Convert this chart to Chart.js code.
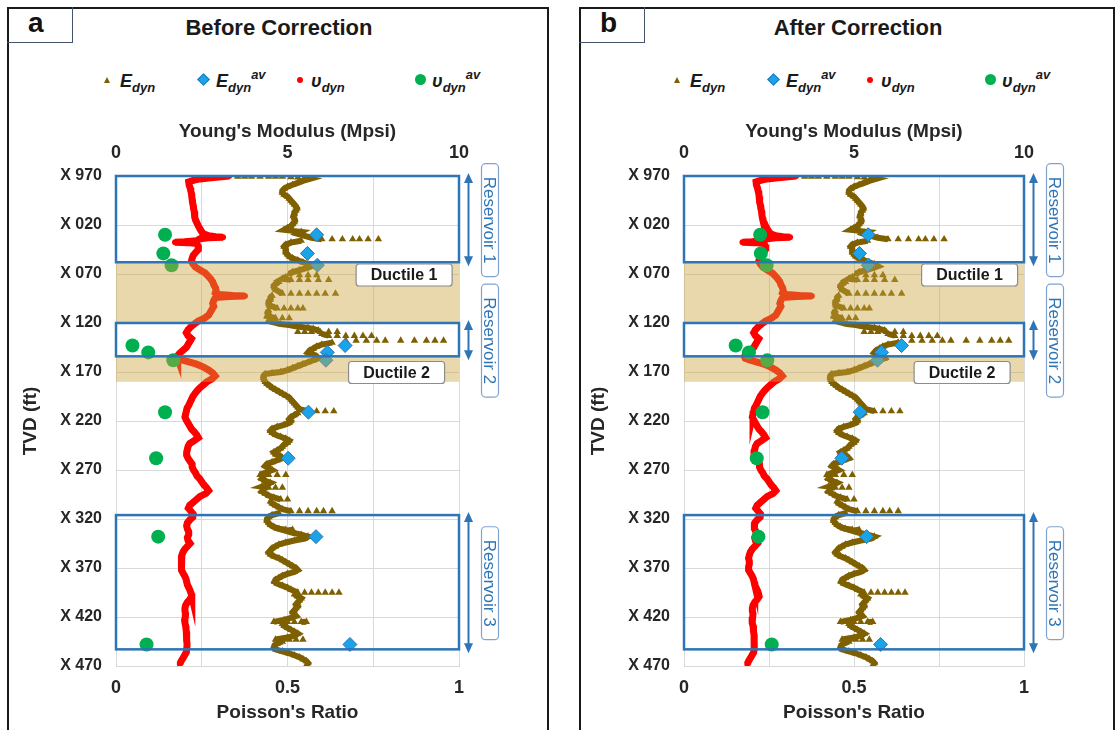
<!DOCTYPE html>
<html>
<head>
<meta charset="utf-8">
<title>Before / After Correction</title>
<script src="https://cdn.jsdelivr.net/npm/chart.js@4.4.1/dist/chart.umd.min.js"></script>
<style>
  html, body { margin: 0; padding: 0; width: 1117px; height: 730px; overflow: hidden; background: #fff;
    font-family: 'Liberation Sans', Arial, sans-serif; color: #262626; }
  .panel { position: absolute; top: 0; height: 730px; width: 560px; }
  .frame { position: absolute; top: 7px; height: 780px; border: 2px solid #1a1a1a; box-sizing: border-box; }
  .tag { position: absolute; top: 7px; width: 66px; height: 36px; box-sizing: border-box;
    border-right: 1.5px solid #44546a; border-bottom: 1.5px solid #44546a;
    font-weight: bold; font-size: 28px; line-height: 32px; padding-left: 21px; color: #111; }
  .title { position: absolute; top: 14px; width: 600px; text-align: center; font-weight: bold; font-size: 22px; line-height: 28px; color: #1a1a1a; }
  .lg { position: absolute; top: 69px; font-style: italic; font-weight: bold; font-size: 18px; line-height: 24px; white-space: nowrap; color: #1a1a1a; }
  .lg sub, .lg sup { font-size: 13px; line-height: 0; position: relative; vertical-align: baseline; }
  .lg sub { top: 5px; }
  .lg sup { top: -8px; }
  .mk { position: absolute; }
  .tri { width: 0; height: 0; border-left: 3.5px solid transparent; border-right: 3.5px solid transparent; border-bottom: 6px solid #7f6000; top: 77px; }
  .dia { width: 7px; height: 7px; background: #1aa3e8; border: 1px solid #2e75b6; transform: rotate(45deg); top: 75px; }
  .dot { width: 6px; height: 6px; border-radius: 50%; background: #ff0000; top: 77px; }
  .grn { width: 11px; height: 11px; border-radius: 50%; background: #00b050; top: 74px; }
  canvas { position: absolute; top: 110px; }
</style>
</head>
<body>

<div class="panel" style="left:0">
  <div class="frame" style="left:7px; width:542px"></div>
  <div class="tag" style="left:7px">a</div>
  <div class="title" style="left:-21px">Before Correction</div>
  <div class="mk tri" style="left:104px"></div>
  <div class="lg" style="left:120px">E<sub>dyn</sub></div>
  <div class="mk dia" style="left:199px"></div>
  <div class="lg" style="left:216px">E<sub>dyn</sub><sup>av</sup></div>
  <div class="mk dot" style="left:297px"></div>
  <div class="lg" style="left:311px">υ<sub>dyn</sub></div>
  <div class="mk grn" style="left:415px"></div>
  <div class="lg" style="left:432px">υ<sub>dyn</sub><sup>av</sup></div>
  <canvas id="chartBefore" width="535" height="620" style="left:10px"></canvas>
</div>

<div class="panel" style="left:570px">
  <div class="frame" style="left:9px; width:536px"></div>
  <div class="tag" style="left:9px">b</div>
  <div class="title" style="left:-12px">After Correction</div>
  <div class="mk tri" style="left:104px"></div>
  <div class="lg" style="left:120px">E<sub>dyn</sub></div>
  <div class="mk dia" style="left:199px"></div>
  <div class="lg" style="left:216px">E<sub>dyn</sub><sup>av</sup></div>
  <div class="mk dot" style="left:297px"></div>
  <div class="lg" style="left:311px">υ<sub>dyn</sub></div>
  <div class="mk grn" style="left:415px"></div>
  <div class="lg" style="left:432px">υ<sub>dyn</sub><sup>av</sup></div>
  <canvas id="chartAfter" width="535" height="620" style="left:8px"></canvas>
</div>

<script>
// depth range, ft (labels show the last three digits: X 970 ... X 470)
const depthTop = 970;
const depthBottom = 1470;

const reservoirZones = [[970, 1058], [1120, 1154], [1316, 1453]];
const reservoirNames = ['Reservoir 1', 'Reservoir 2', 'Reservoir 3'];
const ductileZones = [[1058, 1120], [1154, 1180]];
const ductileNames = ['Ductile 1', 'Ductile 2'];

// dynamic Young's modulus log: [depth ft, Mpsi]
const eDynLog = [
  [970.5, 3.55], [970.5, 3.75], [970.5, 3.95], [970.5, 4.2], [970.5, 4.45], [970.5, 4.65], [970.5, 4.85],
  [971, 5.1], [971.5, 5.3], [972, 5.5], [973, 5.65],
  [975, 5.45], [977, 5.3], [979, 5.15], [981, 5.0], [983, 4.9], [985, 4.85], [987, 4.85], [989, 4.9],
  [991, 5.0], [993, 5.05], [995, 5.1], [997, 5.15], [999, 5.2], [1001, 5.25], [1003, 5.28], [1005, 5.25],
  [1007, 5.2], [1009, 5.2], [1011, 5.17], [1013, 5.2], [1015, 5.22], [1017, 5.2], [1019, 5.15], [1021, 5.1],
  [1023, 5.0], [1025, 4.9], [1026, 5.15], [1027, 5.4], [1029, 5.3], [1031, 5.5], [1033, 5.7],
  [1034.5, 6.0], [1034.5, 6.3], [1034.5, 6.6], [1034.5, 6.9], [1034.5, 7.1], [1034.5, 7.35], [1034.5, 7.65],
  [1036, 5.4], [1038, 5.1], [1040, 4.95], [1042, 4.9], [1044, 4.95], [1046, 4.95], [1048, 4.95], [1050, 5.0],
  [1052, 5.05], [1054, 5.15], [1056, 5.3], [1058, 5.45], [1060, 5.6], [1062, 5.7], [1064, 5.55], [1066, 5.35],
  [1068, 5.15], [1070, 5.05],
  [1071, 5.35], [1071, 5.6], [1071, 5.85],
  [1073, 4.95], [1075, 4.85],
  [1076, 5.1], [1076, 5.35], [1076, 5.6], [1076, 5.9], [1076, 6.2],
  [1078, 4.75], [1080, 4.65], [1082, 4.6], [1084, 4.62], [1086, 4.65],
  [1090, 4.85], [1090, 5.1], [1090, 5.35], [1090, 5.6], [1090, 5.85], [1090, 6.1], [1090, 6.4],
  [1092, 4.55], [1094, 4.5], [1096, 4.5], [1098, 4.45], [1100, 4.45], [1102, 4.47],
  [1105, 4.7], [1105, 4.9], [1105, 5.1], [1105, 5.3], [1105, 5.45],
  [1107, 4.45], [1109, 4.42], [1111, 4.45], [1113, 4.42],
  [1115, 4.65], [1115, 4.85], [1115, 5.05],
  [1117, 4.45], [1119, 4.55], [1121, 4.8], [1122, 5.05], [1123, 5.2], [1124, 5.4], [1125, 5.6], [1126, 5.75], [1127.5, 5.9],
  [1129, 5.3], [1129, 5.5], [1129, 5.7], [1129, 5.95], [1129, 6.2], [1129, 6.45],
  [1131, 6.0],
  [1133, 6.2], [1133, 6.45], [1133, 6.7], [1133, 6.95], [1133, 7.2], [1133, 7.45],
  [1138, 6.7], [1138, 7.0], [1138, 7.3], [1138, 7.6], [1138, 7.85], [1138, 8.3], [1138, 8.7], [1138, 9.05], [1138, 9.3], [1138, 9.55],
  [1140, 6.3], [1142, 6.0], [1144, 5.85], [1146, 5.75], [1148, 5.65], [1150, 5.6], [1152, 5.75], [1154, 5.85],
  [1156, 5.9], [1158, 5.75], [1160, 5.6], [1162, 5.45], [1164, 5.3], [1166, 5.15], [1168, 5.0], [1170, 4.8],
  [1171, 4.55], [1172, 4.35], [1174, 4.3], [1176, 4.3], [1178, 4.32], [1180, 4.35], [1182, 4.4], [1184, 4.48],
  [1186, 4.55], [1188, 4.65], [1190, 4.75], [1192, 4.85], [1194, 4.95], [1196, 5.05], [1198, 5.1], [1200, 5.15],
  [1202, 5.2], [1204, 5.25], [1206, 5.3], [1208, 5.35],
  [1210, 5.6], [1210, 5.85], [1210, 6.1], [1210, 6.35],
  [1212, 5.3], [1214, 5.2], [1216, 5.1], [1218, 5.05], [1220, 5.1], [1222, 5.05], [1224, 4.9], [1226, 4.7],
  [1228, 4.55], [1230, 4.5], [1232, 4.55], [1234, 4.65], [1236, 4.8], [1238, 4.95], [1240, 5.05], [1242, 5.0],
  [1244, 4.9], [1246, 4.85], [1248, 4.8], [1250, 4.7], [1252, 4.6], [1254, 4.65], [1256, 4.8], [1258, 4.85],
  [1260, 4.7], [1262, 4.55], [1264, 4.4], [1266, 4.35], [1268, 4.45], [1270, 4.55],
  [1275, 4.2], [1275, 4.45], [1275, 4.7], [1275, 4.95],
  [1277, 4.3], [1279, 4.25], [1281, 4.35], [1283, 4.5], [1285, 4.4], [1287, 4.25],
  [1288, 4.45], [1288, 4.65], [1288, 4.85],
  [1290, 4.3], [1292, 4.25], [1294, 4.35], [1296, 4.45], [1298, 4.6],
  [1300, 4.8], [1300, 5.0],
  [1302, 4.5], [1304, 4.55], [1306, 4.65], [1308, 4.75], [1310, 4.85],
  [1312, 5.1], [1312, 5.35], [1312, 5.6], [1312, 5.85], [1312, 6.05], [1312, 6.3],
  [1314, 4.75], [1316, 4.55], [1318, 4.45], [1320, 4.4], [1322, 4.4], [1324, 4.45], [1326, 4.5], [1328, 4.6], [1330, 4.75],
  [1331, 4.95], [1331, 5.15],
  [1332, 4.95], [1334, 5.15], [1336, 5.4], [1338, 5.6], [1340, 5.5], [1342, 5.2], [1344, 4.95], [1346, 4.75],
  [1348, 4.65], [1350, 4.55], [1352, 4.5], [1354, 4.45], [1356, 4.5], [1358, 4.6], [1360, 4.75], [1362, 4.85],
  [1364, 4.95], [1366, 5.05], [1368, 5.15], [1370, 5.25], [1372, 5.3], [1374, 5.2], [1376, 5.0], [1378, 4.85],
  [1380, 4.75], [1382, 4.65], [1384, 4.62], [1386, 4.7], [1388, 4.85], [1390, 5.0], [1392, 5.1],
  [1395, 5.3], [1395, 5.5], [1395, 5.7], [1395, 5.9], [1395, 6.1], [1395, 6.3], [1395, 6.5],
  [1397, 5.2], [1399, 5.3], [1401, 5.4], [1403, 5.35], [1405, 5.3], [1407, 5.25], [1409, 5.3], [1411, 5.25],
  [1413, 5.2], [1415, 5.15], [1417, 5.2], [1419, 5.25], [1421, 5.1], [1423, 4.9],
  [1425, 4.6], [1425, 4.8], [1425, 5.0], [1425, 5.2], [1425, 5.4], [1425, 5.55],
  [1427, 4.85], [1429, 4.9], [1431, 5.0], [1433, 5.1], [1435, 5.2], [1437, 5.3], [1439, 5.2], [1441, 5.0],
  [1443, 4.65], [1443, 4.85], [1443, 5.05], [1443, 5.25], [1443, 5.45],
  [1445, 4.85], [1447, 4.7], [1449, 4.62], [1451, 4.6], [1453, 4.65], [1455, 4.85], [1457, 5.05], [1459, 5.2],
  [1461, 5.35], [1463, 5.45], [1465, 5.55], [1467, 5.6], [1469, 5.55]
];

// dynamic Poisson's ratio log: [depth ft, ratio]
const nuDynLog = [
  [970, 0.33], [971, 0.30], [972, 0.27], [973, 0.245], [974.5, 0.225], [976, 0.212], [979, 0.213], [982, 0.216],
  [985, 0.218], [988, 0.22], [991, 0.221], [994, 0.222], [997, 0.223], [1000, 0.225], [1003, 0.226], [1006, 0.228],
  [1009, 0.229], [1012, 0.23], [1015, 0.232], [1018, 0.236], [1021, 0.24], [1024, 0.245], [1027, 0.25], [1029, 0.255],
  [1031, 0.27], [1032, 0.29], [1032.5, 0.312], [1033, 0.27], [1034, 0.245],
  [1036, 0.235], [1037, 0.2], [1037.5, 0.172], [1038, 0.21], [1039, 0.235],
  [1042, 0.24], [1045, 0.24], [1048, 0.232], [1051, 0.225], [1054, 0.222], [1057, 0.22], [1060, 0.225], [1063, 0.232],
  [1066, 0.245], [1069, 0.26], [1072, 0.268], [1075, 0.276], [1078, 0.282], [1081, 0.285], [1084, 0.29], [1087, 0.292],
  [1089, 0.29], [1091, 0.3], [1092, 0.34], [1092.5, 0.376], [1093, 0.33], [1094, 0.29],
  [1097, 0.285], [1100, 0.282], [1103, 0.285], [1106, 0.28], [1109, 0.275], [1112, 0.27], [1115, 0.258], [1118, 0.24],
  [1121, 0.228], [1124, 0.218], [1127, 0.21], [1130, 0.205], [1133, 0.21], [1136, 0.22], [1139, 0.215], [1142, 0.21],
  [1145, 0.205], [1148, 0.195], [1151, 0.185], [1154, 0.178], [1156, 0.18], [1158, 0.195], [1160, 0.215], [1162, 0.235],
  [1165, 0.255], [1168, 0.27], [1171, 0.282], [1174, 0.289], [1177, 0.28], [1180, 0.265], [1183, 0.255], [1186, 0.245],
  [1189, 0.237], [1192, 0.23], [1195, 0.224], [1198, 0.22], [1201, 0.216], [1204, 0.212], [1207, 0.207], [1210, 0.205],
  [1213, 0.203], [1216, 0.201], [1219, 0.205], [1222, 0.21], [1225, 0.215], [1228, 0.22], [1231, 0.228], [1234, 0.235],
  [1237, 0.24], [1240, 0.228], [1243, 0.215], [1246, 0.21], [1249, 0.208], [1252, 0.206], [1255, 0.206], [1258, 0.21],
  [1261, 0.216], [1264, 0.222], [1267, 0.222], [1270, 0.226], [1273, 0.232], [1276, 0.236], [1279, 0.244], [1282, 0.25],
  [1285, 0.256], [1288, 0.264], [1291, 0.27], [1294, 0.262], [1297, 0.245], [1300, 0.235], [1303, 0.225], [1306, 0.215],
  [1309, 0.211], [1312, 0.218], [1315, 0.225], [1318, 0.224], [1321, 0.215], [1324, 0.208], [1327, 0.206], [1330, 0.208],
  [1333, 0.212], [1336, 0.212], [1339, 0.208], [1342, 0.21], [1345, 0.216], [1348, 0.208], [1351, 0.2], [1354, 0.195],
  [1357, 0.192], [1360, 0.19], [1363, 0.192], [1366, 0.192], [1369, 0.19], [1372, 0.19], [1375, 0.195], [1378, 0.2],
  [1381, 0.204], [1384, 0.206], [1387, 0.208], [1390, 0.212], [1393, 0.216], [1396, 0.219], [1399, 0.221], [1402, 0.215],
  [1405, 0.208], [1408, 0.203], [1411, 0.201], [1414, 0.201], [1417, 0.203], [1420, 0.202], [1423, 0.2], [1426, 0.201],
  [1429, 0.203], [1432, 0.204], [1435, 0.205], [1438, 0.206], [1441, 0.206], [1444, 0.206], [1447, 0.207], [1450, 0.207],
  [1453, 0.206], [1456, 0.205], [1459, 0.2], [1462, 0.195], [1465, 0.19], [1468, 0.186]
];

// averaged values at the core depths
const avDepth = [1030, 1049, 1061, 1143, 1150, 1158, 1211, 1258, 1338, 1448];
const eAvBefore = [5.85, 5.58, 5.87, 6.68, 6.16, 6.12, 5.61, 5.02, 5.83, 6.82];
const nuAvBefore = [0.143, 0.138, 0.162, 0.048, 0.094, 0.167, 0.143, 0.117, 0.123, 0.089];
const eAvAfter = [5.42, 5.16, 5.42, 6.40, 5.81, 5.69, 5.18, 4.64, 5.37, 5.78];
const nuAvAfter = [0.224, 0.226, 0.243, 0.152, 0.191, 0.245, 0.231, 0.214, 0.219, 0.258];

const BROWN = '#7f6000';
const RED = '#ff0000';
const BLUE = '#2e75b6';
const FONT = "'Liberation Sans', Arial, sans-serif";
const INK = '#262626';

// where the ductile tags sit: [poisson ratio, depth]
const ductileLabelAt = [[0.84, 1071], [0.818, 1170.5]];

function drawArrow(ctx, x, y0, y1) {
  const head = 9;
  ctx.beginPath();
  ctx.moveTo(x, y0 + head);
  ctx.lineTo(x, y1 - head);
  ctx.stroke();
  ctx.beginPath();
  ctx.moveTo(x, y0);
  ctx.lineTo(x - 4.5, y0 + head + 1);
  ctx.lineTo(x + 4.5, y0 + head + 1);
  ctx.closePath();
  ctx.fill();
  ctx.beginPath();
  ctx.moveTo(x, y1);
  ctx.lineTo(x - 4.5, y1 - head - 1);
  ctx.lineTo(x + 4.5, y1 - head - 1);
  ctx.closePath();
  ctx.fill();
}

const zonesPlugin = {
  id: 'zones',
  afterDatasetsDraw(chart) {
    const ctx = chart.ctx;
    const area = chart.chartArea;
    const x = chart.scales.x;
    const y = chart.scales.y;
    ctx.save();

    // ductile intervals shaded over the logs
    ctx.fillStyle = 'rgba(201, 164, 61, 0.43)';
    ductileZones.forEach(function (z) {
      const top = y.getPixelForValue(z[0]);
      const bottom = y.getPixelForValue(z[1]);
      ctx.fillRect(area.left, top, area.right - area.left, bottom - top);
    });

    // reservoir outlines
    ctx.strokeStyle = BLUE;
    ctx.lineWidth = 2.5;
    reservoirZones.forEach(function (z) {
      const top = y.getPixelForValue(z[0]);
      const bottom = y.getPixelForValue(z[1]);
      ctx.strokeRect(area.left, top, area.right - area.left, bottom - top);
    });

    // ductile tags
    ctx.font = 'bold 16px ' + FONT;
    ctx.textAlign = 'center';
    ctx.textBaseline = 'middle';
    ductileNames.forEach(function (name, i) {
      const cx = x.getPixelForValue(ductileLabelAt[i][0]);
      const cy = y.getPixelForValue(ductileLabelAt[i][1]);
      const w = 96, h = 22;
      ctx.beginPath();
      ctx.roundRect(cx - w / 2, cy - h / 2, w, h, 3);
      ctx.fillStyle = '#ffffff';
      ctx.fill();
      ctx.strokeStyle = '#8c8c8c';
      ctx.lineWidth = 1.2;
      ctx.stroke();
      ctx.fillStyle = '#1a1a1a';
      ctx.fillText(name, cx, cy + 1);
    });

    // reservoir arrows and vertical tags to the right of the plot
    ctx.strokeStyle = BLUE;
    ctx.fillStyle = BLUE;
    ctx.lineWidth = 2;
    reservoirZones.forEach(function (z) {
      drawArrow(ctx, area.right + 9.5, y.getPixelForValue(z[0]) - 3, y.getPixelForValue(z[1]) + 4);
    });

    ctx.font = '17px ' + FONT;
    reservoirNames.forEach(function (name, i) {
      const z = reservoirZones[i];
      const cy = (y.getPixelForValue(z[0]) + y.getPixelForValue(z[1])) / 2 + 1;
      const cx = area.right + 31;
      const len = ctx.measureText(name).width + 26;
      ctx.beginPath();
      ctx.roundRect(cx - 8.5, cy - len / 2, 17, len, 4);
      ctx.fillStyle = '#ffffff';
      ctx.fill();
      ctx.strokeStyle = '#7fa3cf';
      ctx.lineWidth = 1.2;
      ctx.stroke();
      ctx.save();
      ctx.translate(cx, cy);
      ctx.rotate(Math.PI / 2);
      ctx.fillStyle = BLUE;
      ctx.textAlign = 'center';
      ctx.textBaseline = 'middle';
      ctx.fillText(name, 0, 1);
      ctx.restore();
    });

    ctx.restore();
  }
};

// hide the joins that belong to the horizontal spikes so they stay as loose triangles
function eDynSegment(ctx) {
  const dx = Math.abs(ctx.p1.parsed.x - ctx.p0.parsed.x);
  const dy = Math.abs(ctx.p1.parsed.y - ctx.p0.parsed.y);
  return dx > 0.15 + 0.1 * dy ? 'rgba(0,0,0,0)' : BROWN;
}

function buildPanel(canvasId, eAv, nuAv, rightPad) {
  const tickFont = { family: FONT, size: 18, weight: 'bold' };
  const titleFont = { family: FONT, size: 19, weight: 'bold' };

  new Chart(document.getElementById(canvasId), {
    type: 'scatter',
    data: {
      datasets: [
        {
          label: 'E dyn',
          data: eDynLog.map(function (p) { return { x: p[1], y: p[0] }; }),
          xAxisID: 'xE',
          showLine: true,
          borderColor: BROWN,
          borderWidth: 6,
          segment: { borderColor: eDynSegment },
          pointStyle: 'triangle',
          pointRadius: 4.3,
          pointBackgroundColor: BROWN,
          pointBorderWidth: 0,
          order: 4
        },
        {
          label: 'υ dyn',
          data: nuDynLog.map(function (p) { return { x: p[1], y: p[0] }; }),
          xAxisID: 'x',
          showLine: true,
          borderColor: RED,
          borderWidth: 7,
          pointRadius: 3,
          pointBackgroundColor: RED,
          pointBorderWidth: 0,
          order: 3
        },
        {
          label: 'E dyn av',
          data: avDepth.map(function (d, i) { return { x: eAv[i], y: d }; }),
          xAxisID: 'xE',
          pointStyle: 'rectRot',
          pointRadius: 7,
          backgroundColor: '#1aa3e8',
          borderColor: BLUE,
          borderWidth: 1,
          order: 2
        },
        {
          label: 'υ dyn av',
          data: avDepth.map(function (d, i) { return { x: nuAv[i], y: d }; }),
          xAxisID: 'x',
          pointStyle: 'circle',
          pointRadius: 7,
          backgroundColor: '#00b050',
          borderWidth: 0,
          order: 1
        }
      ]
    },
    options: {
      responsive: false,
      animation: false,
      devicePixelRatio: 1,
      layout: { padding: { left: 0, right: rightPad, top: 0, bottom: 0 } },
      plugins: { legend: { display: false }, tooltip: { enabled: false } },
      scales: {
        x: {
          type: 'linear',
          position: 'bottom',
          min: 0,
          max: 1,
          ticks: {
            stepSize: 0.25,
            autoSkip: false,
            maxRotation: 0,
            padding: 11,
            color: INK,
            font: tickFont,
            callback: function (v) { return (v * 2) % 1 === 0 ? String(v) : ''; }
          },
          grid: { color: '#d9d9d9', drawTicks: false },
          border: { color: '#d9d9d9' },
          title: { display: true, text: "Poisson's Ratio", color: INK, font: titleFont, padding: { top: 0, bottom: 6 } },
          afterFit: function (scale) { scale.height = 64; }
        },
        xE: {
          type: 'linear',
          position: 'top',
          min: 0,
          max: 10,
          ticks: { stepSize: 5, padding: 12, color: INK, font: tickFont, maxRotation: 0 },
          grid: { display: false, drawTicks: false },
          border: { display: false },
          title: { display: true, text: "Young's Modulus (Mpsi)", color: INK, font: titleFont, padding: { top: 10, bottom: 0 } },
          afterFit: function (scale) { scale.height = 66; }
        },
        y: {
          type: 'linear',
          reverse: true,
          min: depthTop,
          max: depthBottom,
          ticks: {
            stepSize: 50,
            padding: 14,
            color: INK,
            font: { family: FONT, size: 16, weight: 'bold' },
            callback: function (v) { return 'X ' + String(v % 1000).padStart(3, '0'); }
          },
          grid: { color: '#d9d9d9', drawTicks: false },
          border: { color: '#d9d9d9' },
          title: { display: true, text: 'TVD (ft)', color: INK, font: titleFont, padding: { top: 9, bottom: 0 } },
          afterFit: function (scale) { scale.width = 106; }
        }
      }
    },
    plugins: [zonesPlugin]
  });
}

document.addEventListener('DOMContentLoaded', function () {
  buildPanel('chartBefore', eAvBefore, nuAvBefore, 86);
  buildPanel('chartAfter', eAvAfter, nuAvAfter, 89);
});
</script>
</body>
</html>
